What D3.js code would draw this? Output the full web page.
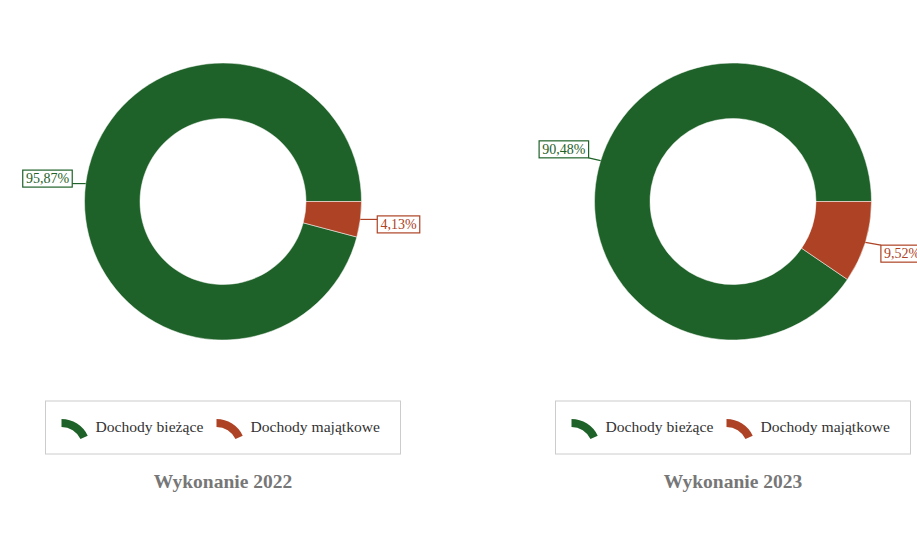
<!DOCTYPE html>
<html lang="pl">
<head>
    <meta charset="UTF-8">
    <title>Wykonanie 2022 / 2023</title>
    <script src="https://d3js.org/d3.v7.min.js"></script>
    <style>
        body {
            margin: 0;
            background: #ffffff;
            font-family: "Liberation Serif", "Times New Roman", Times, serif;
            overflow: hidden;
        }
    </style>
</head>
<body>
    <div id="chart"></div>

    <script>
        const categories = ["Dochody bieżące", "Dochody majątkowe"];
        const colors = ["#1f6229", "#ad4224"];
        const years = ["Wykonanie 2022", "Wykonanie 2023"];
        const values2022 = [95.87, 4.13];
        const values2023 = [90.48, 9.52];
        const labels2022 = ["95,87%", "4,13%"];
        const labels2023 = ["90,48%", "9,52%"];

        const width = 917;
        const height = 538;
        const outerR = 138.5;
        const innerR = 83;
        const labelR = 177;

        const svg = d3.select("#chart")
            .append("svg")
            .attr("width", width)
            .attr("height", height);

        const panels = [
            { cx: 223, title: years[0], values: values2022, labels: labels2022 },
            { cx: 733, title: years[1], values: values2023, labels: labels2023 }
        ];

        const arc = d3.arc().innerRadius(innerR).outerRadius(outerR);

        panels.forEach(p => {
            // smaller slice starts at 3 o'clock, going clockwise
            const pie = d3.pie()
                .value(i => p.values[i])
                .sortValues(d3.ascending)
                .startAngle(Math.PI / 2)
                .endAngle(Math.PI / 2 + 2 * Math.PI);

            const g = svg.append("g").attr("transform", `translate(${p.cx}, 201.5)`);
            const arcs = pie(d3.range(categories.length));

            g.selectAll("path.slice")
                .data(arcs)
                .enter()
                .append("path")
                .attr("class", "slice")
                .attr("d", arc)
                .attr("fill", d => colors[d.data])
                .attr("stroke", "#ffffff")
                .attr("stroke-width", 0.5);

            // labels with boxes
            arcs.forEach(d => {
                const mid = (d.startAngle + d.endAngle) / 2;
                const sx = Math.sin(mid), sy = -Math.cos(mid);
                const ax = sx * outerR, ay = sy * outerR;
                const lx = sx * labelR, ly = sy * labelR;
                const col = colors[d.data];

                const lab = g.append("g");
                const txt = lab.append("text")
                    .attr("x", lx)
                    .attr("y", ly)
                    .attr("text-anchor", "middle")
                    .attr("dominant-baseline", "central")
                    .attr("font-size", 14)
                    .attr("fill", col)
                    .text(p.labels[d.data]);

                const bb = txt.node().getBBox();
                const bw = bb.width + 6, bh = 17;
                const bx = lx - bw / 2, by = ly - bh / 2;
                lab.insert("rect", "text")
                    .attr("x", bx)
                    .attr("y", by)
                    .attr("width", bw)
                    .attr("height", bh)
                    .attr("fill", "#ffffff")
                    .attr("stroke", col)
                    .attr("stroke-width", 1.2);

                const ex = sx > 0 ? bx : bx + bw;
                const ey = Math.max(by, Math.min(by + bh, ay));
                g.append("line")
                    .attr("x1", ax).attr("y1", ay)
                    .attr("x2", ex).attr("y2", ey)
                    .attr("stroke", col)
                    .attr("stroke-width", 1.2);
            });

            // legend
            const lg = svg.append("g").attr("transform", `translate(${p.cx - 177.5}, 401)`);
            lg.append("rect")
                .attr("x", 0).attr("y", 0)
                .attr("width", 355).attr("height", 53)
                .attr("fill", "#ffffff")
                .attr("stroke", "#cccccc")
                .attr("stroke-width", 1);

            const iconArc = d3.arc()
                .innerRadius(21)
                .outerRadius(29)
                .startAngle(0)
                .endAngle(1.13);

            const itemX = [16, 171];
            categories.forEach((c, i) => {
                lg.append("path")
                    .attr("transform", `translate(${itemX[i]}, 47)`)
                    .attr("d", iconArc())
                    .attr("fill", colors[i]);
                lg.append("text")
                    .attr("x", itemX[i] + 34)
                    .attr("y", 31)
                    .attr("font-size", 15.6)
                    .attr("fill", "#333333")
                    .text(c);
            });

            svg.append("text")
                .attr("x", p.cx)
                .attr("y", 488)
                .attr("text-anchor", "middle")
                .attr("font-size", 19.5)
                .attr("font-weight", "bold")
                .attr("fill", "#777777")
                .text(p.title);
        });
    </script>
</body>
</html>
